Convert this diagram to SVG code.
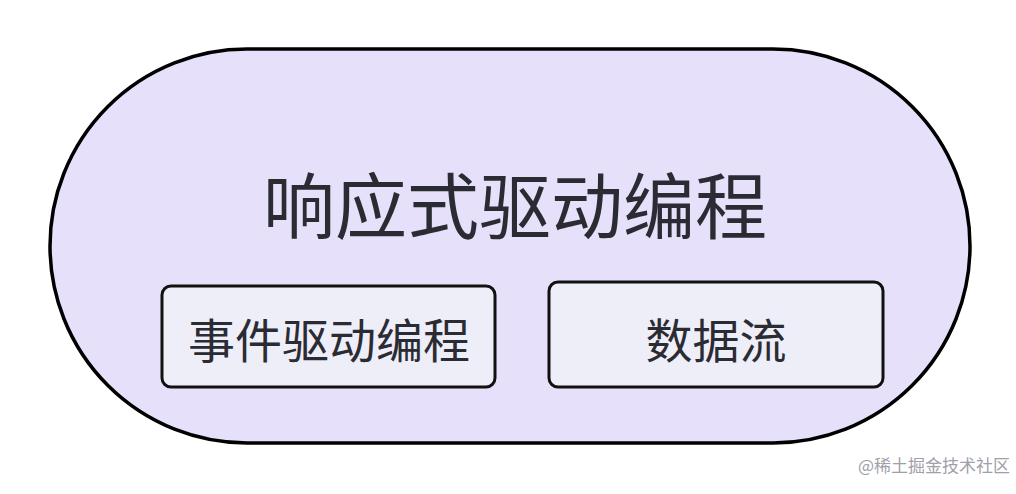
<svg xmlns="http://www.w3.org/2000/svg" width="1016" height="494" viewBox="0 0 1016 494">
<style>
.t{font-family:"Noto Sans CJK SC","Noto Sans",sans-serif;fill:#2b2b33;text-anchor:middle;dominant-baseline:central}
.box{fill:#eeeef9;stroke:#111;stroke-width:3}
</style>
<rect width="1016" height="494" fill="#ffffff"/>
<g id="outer">
<rect x="50" y="49" width="920" height="394" rx="197" ry="197" fill="#e6e0fa" stroke="#000" stroke-width="3.5"/>
<text class="t" x="515" y="201" font-size="72">响应式驱动编程</text>
</g>
<g id="node1">
<rect class="box" x="162" y="286" width="333" height="101" rx="9"/>
<text class="t" x="329" y="337" font-size="47">事件驱动编程</text>
</g>
<g id="node2">
<rect class="box" x="549" y="282" width="334" height="105" rx="9"/>
<text class="t" x="716" y="337" font-size="47">数据流</text>
</g>
<g id="connectors"/>
<text x="1010" y="472" font-family="Noto Sans CJK SC,sans-serif" font-size="17" fill="#a0a0a8" text-anchor="end">@稀土掘金技术社区</text>
</svg>
